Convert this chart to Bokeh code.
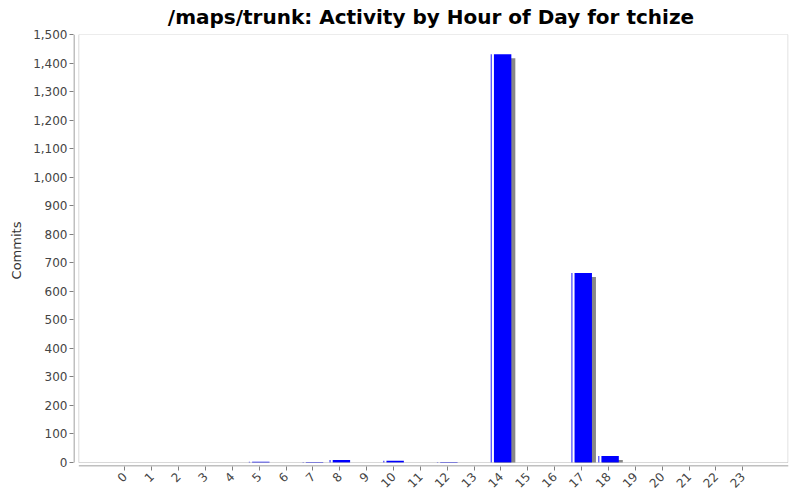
import math
from bokeh.plotting import figure
from bokeh.models import Range1d, FixedTicker, NumeralTickFormatter, BoxAnnotation
from bokeh.embed import file_html
from bokeh.resources import INLINE

hours = list(range(24))
hour_labels = [str(h) for h in hours]
commits = [0, 0, 0, 0, 0, 3, 0, 2, 9, 0, 6, 0, 2, 0, 1431, 0, 0, 664, 23, 0, 0, 0, 0, 0]
y_ticks = list(range(0, 1501, 100))

# pixel geometry helpers (layout only)
PX_X = 26.87          # pixels per category
PX_Y = 429.0 / 1500   # pixels per commit
X0 = -51.3 / PX_X     # frame left edge in category units
X1 = 24.70
BOX_L = X0 + 5.3 / PX_X
BAR_W = 20.7 / PX_X
SH_DX = 4.0 / PX_X
SH_DY = 4.0 / PX_Y
Y0 = -4.0 / PX_Y

p = figure(width=800, height=500, output_backend="svg", toolbar_location=None,
           x_range=Range1d(X0, X1), y_range=Range1d(Y0, 1500),
           title="/maps/trunk: Activity by Hour of Day for tchize",
           min_border_left=73, min_border_right=12, min_border_top=33, min_border_bottom=34)

p.title.text_font = "DejaVu Sans"
p.title.text_font_style = "bold"
p.title.text_font_size = "20px"
p.title.align = "center"
p.title.vertical_align = "top"
p.title.text_color = "#000000"
p.title.offset = 0
p.title.standoff = 8

p.outline_line_color = None
p.xgrid.visible = False
p.ygrid.visible = False
p.background_fill_color = "white"
p.border_fill_color = "white"

# inner plot box
p.add_layout(BoxAnnotation(left=BOX_L, right=X1 - 0.5 / PX_X, bottom=0, top=1500,
                           fill_color=None, line_color="#808080", line_width=1))

# shadows
sh_x = [h + SH_DX for h in hours]
sh_top = [max(0, v - SH_DY) for v in commits]
p.vbar(x=sh_x, top=sh_top, bottom=0, width=BAR_W, fill_color="#888888", line_color=None)
# main bars
main_x = [h + (3.3 / PX_X) / 2 for h in hours]
p.vbar(x=main_x, top=commits, bottom=0, width=BAR_W - 3.3 / PX_X, fill_color="#0000ff", line_color=None)
# thin highlight line at left
hl_x = [h - BAR_W / 2 + 0.65 / PX_X for h in hours]
p.vbar(x=hl_x, top=commits, bottom=0, width=1.3 / PX_X, fill_color="#4d4dff", line_color=None)

# axis lines drawn to match offset style
p.segment(x0=[X0 + 0.5 / PX_X], y0=[0], x1=[X0 + 0.5 / PX_X], y1=[1500], line_color="#808080", line_width=1)
p.segment(x0=[BOX_L], y0=[Y0 + 0.5 / PX_Y], x1=[X1], y1=[Y0 + 0.5 / PX_Y], line_color="#808080", line_width=1)

for ax in (p.xaxis[0], p.yaxis[0]):
    ax.axis_line_color = None
    ax.major_tick_line_color = "#808080"
    ax.minor_tick_line_color = None
    ax.major_tick_in = 0
    ax.major_tick_out = 4
    ax.major_label_text_color = "#444444"
    ax.major_label_text_font = "DejaVu Sans"
    ax.major_label_text_font_size = "12px"

p.yaxis.ticker = FixedTicker(ticks=y_ticks)
p.yaxis.formatter = NumeralTickFormatter(format="0,0")
p.yaxis.axis_label = "Commits"
p.yaxis.axis_label_text_font = "DejaVu Sans"
p.yaxis.axis_label_text_font_style = "normal"
p.yaxis.axis_label_text_font_size = "13px"
p.yaxis.axis_label_text_color = "#333333"
p.yaxis.major_label_standoff = 2
p.yaxis.axis_label_standoff = 6

p.xaxis.ticker = FixedTicker(ticks=hours)
p.xaxis.major_label_overrides = {h: l for h, l in zip(hours, hour_labels)}
p.xaxis.major_label_orientation = math.pi / 4
p.xaxis.major_label_standoff = 4

open("out.html", "w").write(file_html(p, INLINE))
